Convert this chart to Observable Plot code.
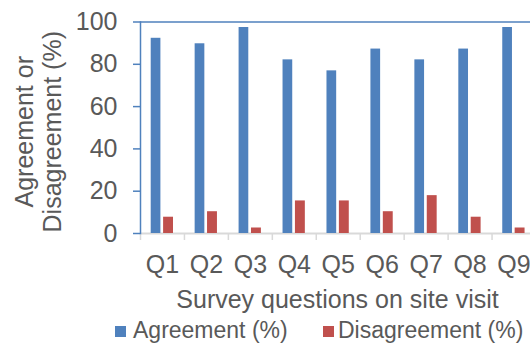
<!DOCTYPE html>
<html><head><meta charset="utf-8">
<script src="https://cdn.jsdelivr.net/npm/d3@7"></script>
<script src="https://cdn.jsdelivr.net/npm/@observablehq/plot@0.6"></script>
<style>
body{margin:0;background:#fff;font-family:"Liberation Sans",Arial,sans-serif;}
#chart svg{display:block;overflow:visible;}
#legend{position:relative;height:28px;width:530px;font-size:23px;color:#595959;}
.item{position:absolute;top:0;height:28px;line-height:28px;white-space:nowrap;}
.sw{position:absolute;top:0;width:11px;height:11px;}
</style></head><body>
<div id="chart"></div>
<div id="legend"></div>
<script>
const questions = ["Q1","Q2","Q3","Q4","Q5","Q6","Q7","Q8","Q9"];
const agreement = [92.3, 89.7, 97.4, 82.1, 76.9, 87.2, 82.1, 87.2, 97.4];
const disagreement = [7.7, 10.3, 2.6, 15.4, 15.4, 10.3, 17.9, 7.7, 2.6];
const seriesNames = ["Agreement (%)", "Disagreement (%)"];
const seriesColors = ["#4F81BD", "#C0504D"];
const yTicks = [0, 20, 40, 60, 80, 100];
const xTitle = "Survey questions on site visit";
const yTitle = "Agreement or\nDisagreement (%)";

const rowsA = questions.map((q, i) => ({q, v: agreement[i]}));
const rowsD = questions.map((q, i) => ({q, v: disagreement[i]}));

const W = 530, H = 316;
const x0 = 140, x1 = 535.5;
const step = (x1 - x0) / questions.length;
const blue = seriesColors[0], red = seriesColors[1];
const gray = "#595959";

const chart = Plot.plot({
  width: W, height: H,
  marginLeft: 140, marginRight: 0, marginTop: 21.5, marginBottom: H - 233,
  style: {fontFamily: '"Liberation Sans", Arial, sans-serif', background: "#fff"},
  x: {domain: questions, range: [x0, x1], padding: 0, round: false},
  y: {domain: [0, 100]},
  marks: [
    Plot.ruleY([0], {stroke: "#d9d9d9", strokeWidth: 2}),
    Plot.axisX({tickSize: 7, dx: -step / 2, stroke: "#d9d9d9", strokeWidth: 1.5, tickFormat: () => "", label: null}),
    Plot.axisX({tickSize: 0, tickPadding: 22, fontSize: 25, color: gray, label: null}),
    Plot.axisY(yTicks, {tickSize: 7, stroke: blue, strokeWidth: 1.5, tickFormat: () => "", label: null}),
    Plot.axisY(yTicks, {tickSize: 0, tickPadding: 23, fontSize: 25, color: gray, label: null}),
    Plot.frame({anchor: "left", stroke: blue, strokeWidth: 1.5}),
    Plot.ruleY([100], {stroke: blue, strokeWidth: 1.5}),
    Plot.barY(rowsA, {x: "q", y: "v", fill: blue, insetLeft: 10.7, insetRight: step - 20.4}),
    Plot.barY(rowsD, {x: "q", y: "v", fill: red, insetLeft: 23.1, insetRight: step - 33}),
    Plot.text([xTitle], {frameAnchor: "bottom", text: d => d, dx: 2, dy: 66, fontSize: 25, fill: gray, lineAnchor: "middle"}),
    Plot.text([yTitle], {frameAnchor: "left", text: d => d, dx: -102, dy: 4, rotate: -90, textAnchor: "middle", fontSize: 25, lineHeight: 1.12, fill: gray, lineAnchor: "middle"})
  ]
});
document.getElementById("chart").appendChild(chart);

const legend = document.getElementById("legend");
const pos = [{sw: 115, tx: 133}, {sw: 322.5, tx: 338}];
seriesNames.forEach((name, i) => {
  const sw = document.createElement("div");
  sw.className = "sw";
  sw.style.left = pos[i].sw + "px";
  sw.style.top = "10px";
  sw.style.background = seriesColors[i];
  legend.appendChild(sw);
  const t = document.createElement("div");
  t.className = "item";
  t.style.left = pos[i].tx + "px";
  t.textContent = name;
  legend.appendChild(t);
});
</script>
</body></html>
